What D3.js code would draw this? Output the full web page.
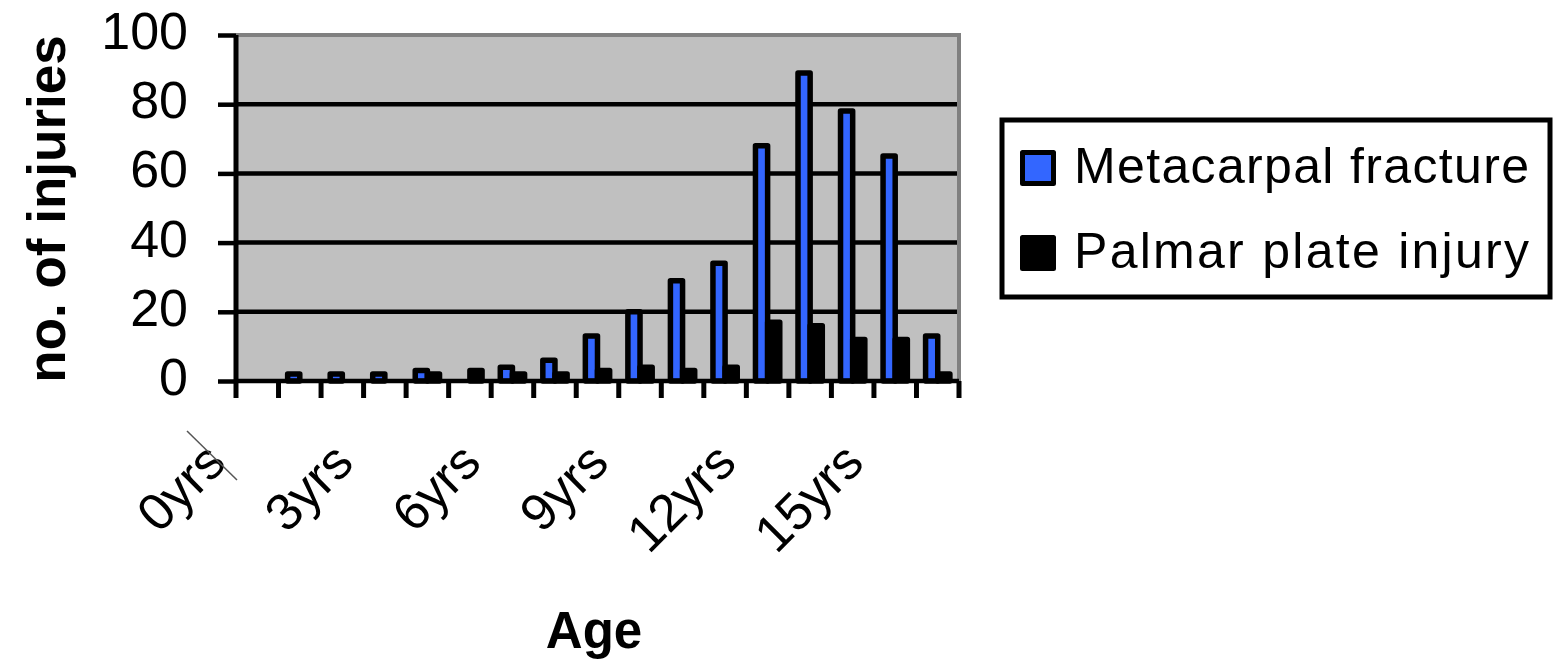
<!DOCTYPE html>
<html>
<head>
<meta charset="utf-8">
<script src="https://cdn.jsdelivr.net/npm/d3@7"></script>
<style>
  html, body { margin: 0; padding: 0; background: #ffffff; }
  svg { display: block; }
  text { font-family: "Liberation Sans", Arial, sans-serif; fill: #000; }
</style>
</head>
<body>
<svg id="chart" width="1554" height="661"></svg>
<script>
// ---- data ----
const categories = ["0yrs","1yrs","2yrs","3yrs","4yrs","5yrs","6yrs","7yrs","8yrs","9yrs","10yrs","11yrs","12yrs","13yrs","14yrs","15yrs","16yrs"];
const shownLabels = ["0yrs","3yrs","6yrs","9yrs","12yrs","15yrs"];
const seriesNames = ["Metacarpal fracture","Palmar plate injury"];
const metacarpal = [0, 2, 2, 2, 3, 0, 4, 6, 13, 20, 29, 34, 68, 89, 78, 65, 13];
const palmar     = [0, 0, 0, 0, 2, 3, 2, 2, 3, 4, 3, 4, 17, 16, 12, 12, 2];
const seriesColors = ["#3366ff", "#000000"];
const yTicks = [0, 20, 40, 60, 80, 100];
const yTitle = "no. of injuries";
const xTitle = "Age";

// ---- layout ----
const svg = d3.select("#chart");
const pL = 236, pR = 959, pT = 35, pB = 381;

const x = d3.scaleBand().domain(categories).range([pL, pR]).paddingInner(0).paddingOuter(0);
const bw = x.bandwidth();
const barW = bw / 3.5;
const xs = d3.scaleBand().domain(seriesNames).range([barW * 0.75, bw - barW * 0.75]);
const y = d3.scaleLinear().domain([0, 100]).range([pB, pT]);

// plot area background
svg.append("rect").attr("x", pL).attr("y", pT).attr("width", pR - pL).attr("height", pB - pT)
  .attr("fill", "#c0c0c0");

// gridlines
svg.append("g").selectAll("line").data(yTicks.filter(d => d > 0 && d < 100)).join("line")
  .attr("x1", pL).attr("x2", pR - 2)
  .attr("y1", d => y(d)).attr("y2", d => y(d))
  .attr("stroke", "#000").attr("stroke-width", 4.5);

// plot border (top & right, gray)
svg.append("path")
  .attr("d", `M${pL},${pT} L${pR},${pT} L${pR},${pB}`)
  .attr("fill", "none").attr("stroke", "#808080").attr("stroke-width", 4);

// bars
const data = categories.map((c, i) => ({cat: c, values: [metacarpal[i], palmar[i]]}));
const groups = svg.append("g").selectAll("g").data(data).join("g")
  .attr("transform", d => `translate(${x(d.cat)},0)`);
groups.selectAll("rect").data(d => d.values.map((v, j) => ({s: seriesNames[j], v, j})).filter(e => e.v > 0)).join("rect")
  .attr("x", d => xs(d.s))
  .attr("width", xs.bandwidth())
  .attr("y", d => y(d.v))
  .attr("height", d => y(0) - y(d.v))
  .attr("fill", d => seriesColors[d.j])
  .attr("stroke", "#000").attr("stroke-width", 5.5).attr("stroke-linejoin", "round");

// y axis
const yAxis = d3.axisLeft(y).tickValues(yTicks).tickSize(18).tickPadding(30).tickFormat(d3.format("d"));
const gy = svg.append("g").attr("transform", `translate(${pL},0)`).call(yAxis);
gy.select(".domain").attr("stroke", "#000").attr("stroke-width", 5).attr("d", `M0,${pT}V${pB + 2}`);
gy.selectAll(".tick line").attr("stroke", "#000").attr("stroke-width", 4.5);
gy.selectAll(".tick text").attr("font-size", 52).attr("dy", "0.26em")
  .attr("font-family", "Liberation Sans, Arial, sans-serif").attr("fill", "#000");

// x axis
const xAxis = d3.axisBottom(x).tickSize(0).tickFormat("");
const gx = svg.append("g").attr("transform", `translate(0,${pB})`).call(xAxis);
gx.select(".domain").attr("stroke", "#000").attr("stroke-width", 4.5).attr("d", `M${pL - 2},0H${pR}`);
gx.selectAll(".tick").remove();
// category boundary ticks
const boundaries = categories.map(c => x(c)).concat([x(categories[categories.length - 1]) + bw]);
svg.append("g").selectAll("line").data(boundaries).join("line")
  .attr("x1", d => d).attr("x2", d => d)
  .attr("y1", pB).attr("y2", pB + 17)
  .attr("stroke", "#000").attr("stroke-width", 5);

// x tick labels (rotated)
svg.append("g").selectAll("text").data(shownLabels).join("text")
  .attr("transform", d => `translate(${x(d) + bw / 2 - 29},${pB + 84}) rotate(-45)`)
  .attr("text-anchor", "end")
  .attr("font-size", 52)
  .text(d => d);

// stray diagonal line near first label
svg.append("line").attr("x1", 187).attr("y1", 431).attr("x2", 237).attr("y2", 480)
  .attr("stroke", "#555").attr("stroke-width", 1.5);

// axis titles
svg.append("text").attr("x", 594).attr("y", 648).attr("text-anchor", "middle")
  .attr("font-size", 51).attr("font-weight", "bold").text(xTitle);
svg.append("text").attr("transform", `translate(65,209) rotate(-90)`).attr("text-anchor", "middle")
  .attr("font-size", 53).attr("font-weight", "bold").text(yTitle);

// legend
const lg = svg.append("g");
lg.append("rect").attr("x", 1002).attr("y", 120).attr("width", 548).attr("height", 177)
  .attr("fill", "#fff").attr("stroke", "#000").attr("stroke-width", 5);
const items = lg.selectAll("g.item").data(seriesNames).join("g").attr("class", "item")
  .attr("transform", (d, i) => `translate(0,${i * 85})`);
items.append("rect").attr("x", 1022.5).attr("y", 152.5).attr("width", 31).attr("height", 31)
  .attr("fill", (d, i) => seriesColors[i]).attr("stroke", "#000").attr("stroke-width", 5)
  .attr("stroke-linejoin", "round");
items.append("text").attr("x", 1074).attr("y", 183).attr("font-size", 50)
  .attr("textLength", 455).attr("lengthAdjust", "spacing").text(d => d);
</script>
</body>
</html>
